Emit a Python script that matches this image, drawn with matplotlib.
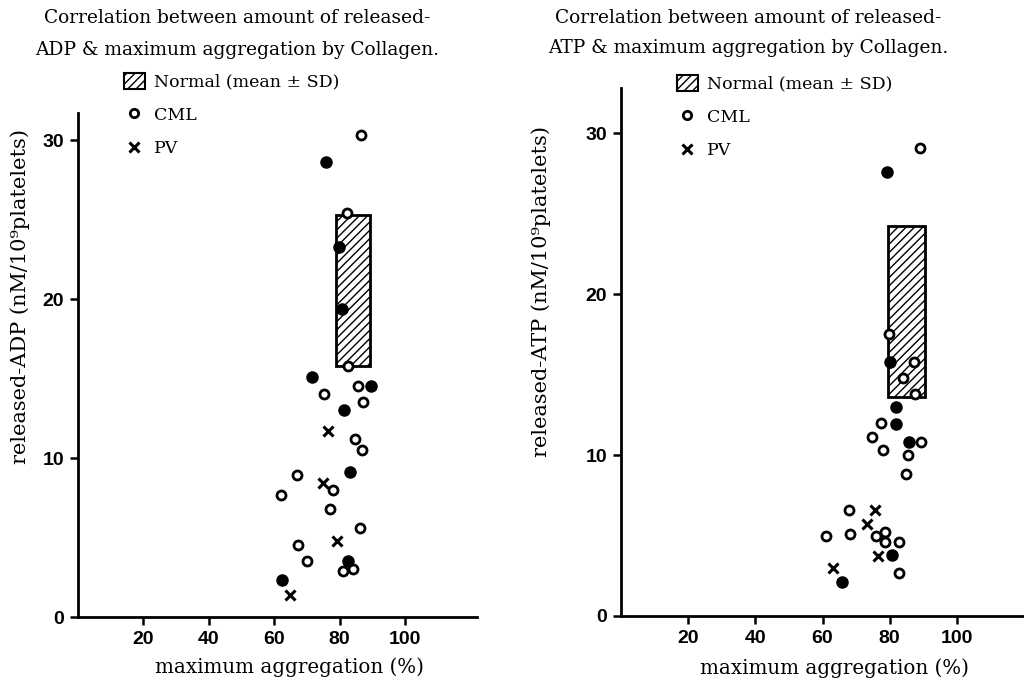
import matplotlib
matplotlib.use('Agg')
import matplotlib.pyplot as plt
from matplotlib.patches import Rectangle, Patch
from matplotlib.lines import Line2D

plt.rcParams['font.family'] = ['DejaVu Serif']

# ADP panel (left)
adp_cml_x = [86.5, 82.2, 82.5, 85.5, 75.1, 87.2, 84.8, 86.8, 67.0, 78.1, 62.1, 76.9, 86.2, 67.4, 69.9, 81.1, 84.0]
adp_cml_y = [30.3, 25.4, 15.8, 14.5, 14.0, 13.5, 11.2, 10.5, 8.9, 8.0, 7.7, 6.8, 5.6, 4.5, 3.5, 2.9, 3.0]
adp_fill_x = [75.7, 79.7, 80.6, 71.5, 89.6, 81.4, 83.2, 82.5, 62.5]
adp_fill_y = [28.6, 23.3, 19.4, 15.1, 14.5, 13.0, 9.1, 3.5, 2.3]
adp_pv_x = [76.4, 74.8, 79.3, 64.8]
adp_pv_y = [11.7, 8.4, 4.8, 1.4]
adp_normal_x = [78.8, 89.3]
adp_normal_y = [15.8, 25.3]

# ATP panel (right)
atp_cml_x = [89.0, 79.7, 87.2, 84.1, 87.5, 77.3, 74.7, 89.4, 78.0, 85.6, 85.0, 67.8, 61.0, 68.3, 75.9, 78.6, 78.6, 82.7, 82.8]
atp_cml_y = [29.1, 17.5, 15.8, 14.8, 13.8, 12.0, 11.1, 10.8, 10.3, 10.0, 8.8, 6.6, 5.0, 5.1, 5.0, 5.2, 4.6, 4.6, 2.7]
atp_fill_x = [79.3, 80.1, 81.9, 81.9, 85.7, 80.8, 65.7]
atp_fill_y = [27.6, 15.8, 13.0, 11.9, 10.8, 3.8, 2.1]
atp_pv_x = [75.6, 73.3, 76.6, 63.2]
atp_pv_y = [6.6, 5.7, 3.7, 3.0]
atp_normal_x = [79.5, 90.5]
atp_normal_y = [13.6, 24.2]

xticks = [20, 40, 60, 80, 100]
yticks = [0, 10, 20, 30]

W, H = 1024, 680
fig = plt.figure(figsize=(10.24, 6.8), dpi=100)
ax1 = fig.add_axes([78 / W, 1 - 617 / H, (477 - 78) / W, (617 - 113) / H])
ax2 = fig.add_axes([621 / W, 1 - 616 / H, (1024 - 621) / W, (616 - 88) / H])


def panel(ax, cx, cy, fx, fy, px, py, nx, ny, xmax, ymax, label):
    ax.add_patch(Rectangle((nx[0], ny[0]), nx[1] - nx[0], ny[1] - ny[0],
                           facecolor='white', edgecolor='black', hatch='////', lw=2, zorder=2))
    ax.plot(cx, cy, 'o', ms=6.5, mfc='white', mec='black', mew=2, ls='none', zorder=3)
    ax.plot(fx, fy, 'o', ms=8, mfc='black', mec='black', ls='none', zorder=3)
    ax.plot(px, py, 'x', ms=7, mec='black', mew=2.2, ls='none', zorder=3)
    ax.set_xlim(0, xmax)
    ax.set_ylim(0, ymax)
    for s in ['top', 'right']:
        ax.spines[s].set_visible(False)
    for s in ['left', 'bottom']:
        ax.spines[s].set_linewidth(2)
    ax.set_xticks(xticks)
    ax.set_yticks(yticks)
    ax.tick_params(axis='both', direction='out', length=6, width=1.8, pad=4)
    for t in ax.get_xticklabels() + ax.get_yticklabels():
        t.set_family('Liberation Sans')
        t.set_fontweight('bold')
        t.set_fontsize(14)
    ax.set_xlabel('maximum aggregation (%)', fontsize=14.3)
    ax.xaxis.set_label_coords(0.53, -0.08)
    ax.set_ylabel(label, fontsize=15)


panel(ax1, adp_cml_x, adp_cml_y, adp_fill_x, adp_fill_y, adp_pv_x, adp_pv_y,
      adp_normal_x, adp_normal_y, 122, 31.7, 'released-ADP (nM/10⁹platelets)')
ax1.yaxis.set_label_coords(-0.12, 0.635)
panel(ax2, atp_cml_x, atp_cml_y, atp_fill_x, atp_fill_y, atp_pv_x, atp_pv_y,
      atp_normal_x, atp_normal_y, 120, 32.8, 'released-ATP (nM/10⁹platelets)')
ax2.yaxis.set_label_coords(-0.174, 0.615)

title_kw = dict(ha='center', va='center', fontsize=13.4)
fig.text(237 / W, 1 - 18 / H, 'Correlation between amount of released-', **title_kw)
fig.text(237 / W, 1 - 50 / H, 'ADP & maximum aggregation by Collagen.', **title_kw)
fig.text(748 / W, 1 - 18 / H, 'Correlation between amount of released-', **title_kw)
fig.text(748 / W, 1 - 48 / H, 'ATP & maximum aggregation by Collagen.', **title_kw)

handles = [Patch(facecolor='white', edgecolor='black', hatch='////', lw=1.5),
           Line2D([], [], marker='o', ms=6, mfc='white', mec='black', mew=2, ls='none'),
           Line2D([], [], marker='x', ms=7, mec='black', mew=2.2, ls='none')]
labels = ['Normal (mean ± SD)', 'CML', 'PV']
for x0, y0 in [(124, 73), (677, 75)]:
    fig.legend(handles, labels, loc='upper left', bbox_to_anchor=(x0 / W, 1 - y0 / H),
               frameon=False, fontsize=12.5, handlelength=1.2, handleheight=1.0,
               handletextpad=0.5, labelspacing=0.9, borderpad=0, borderaxespad=0)

fig.savefig('out.png', dpi=100)
